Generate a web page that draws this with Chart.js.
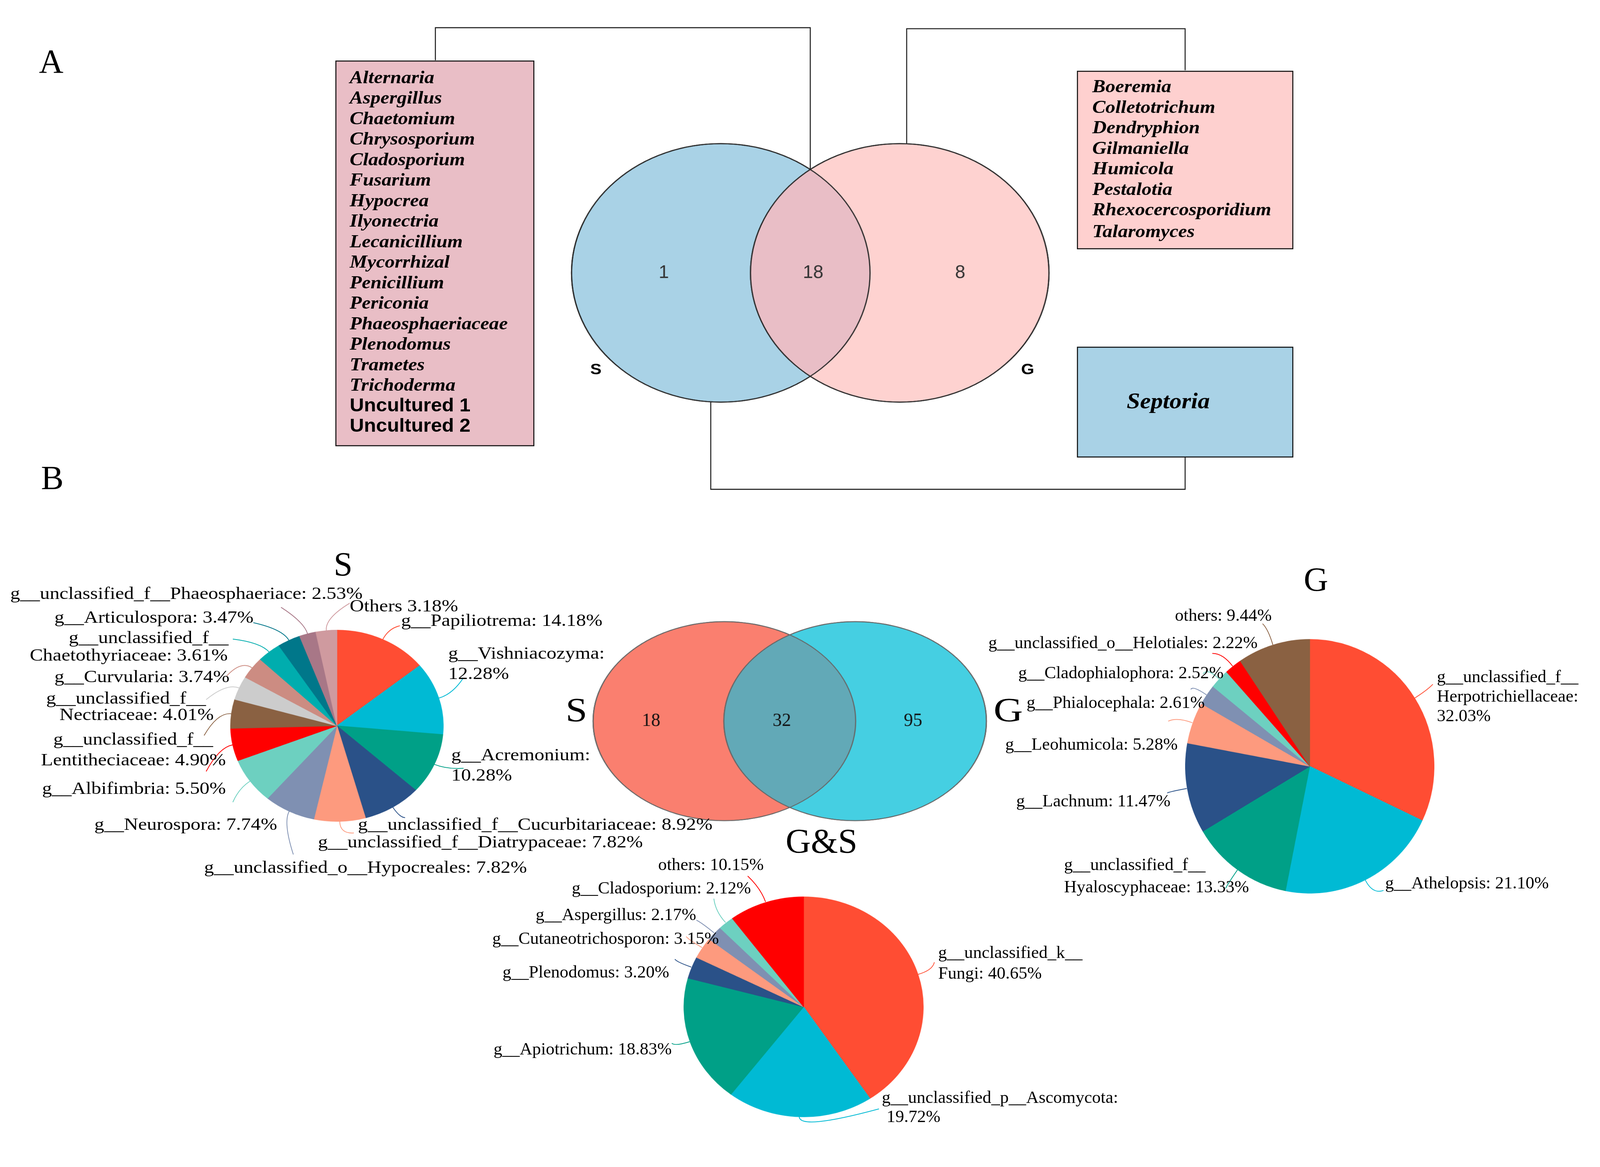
<!DOCTYPE html>
<html>
<head>
<meta charset="utf-8">
<title>Shared and specific genera, S / G</title>
<script src="https://cdn.jsdelivr.net/npm/chart.js@4.4.1/dist/chart.umd.min.js"></script>
<style>
  html, body { margin: 0; padding: 0; background: #fff; }
  body { width: 100vw; height: 100vh; overflow: hidden; position: relative; }
  #page { position: absolute; left: 0; top: 0; width: 1560px; height: 1113px;
          transform: scale(2.684); transform-origin: 0 0;
          font-family: "Liberation Serif", "Times New Roman", serif; color: #000; }
  .txt { position: absolute; white-space: nowrap; line-height: 1; }
  .box { position: absolute; box-sizing: border-box; border: 1.8px solid #111; }
  .list { position: absolute; font-weight: bold; font-style: italic; font-size: 18px;
          line-height: 20.02px; white-space: nowrap; transform: scaleX(1.07); transform-origin: 0 0; }
  .sans { font-family: "Liberation Sans", Arial, sans-serif; font-style: normal; }
  .wrap { position: absolute; }
  .wrap canvas { display: block; }
  #lines { position: absolute; left: 0; top: 0; }
</style>
</head>
<body>
<div id="page">
  <svg id="lines" width="1560" height="1113" xmlns="http://www.w3.org/2000/svg"></svg>
  <div class="box" style="left:327px;top:58.7px;width:194px;height:376.8px;background:#E9BEC6"></div>
  <div class="list" id="listShared" style="left:341px;top:64.7px"></div>
  <div class="box" style="left:1050px;top:68.5px;width:210.5px;height:174px;background:#FED0CF"></div>
  <div class="list" id="listG" style="left:1065px;top:74.4px"></div>
  <div class="box" style="left:1050px;top:338px;width:210.5px;height:107.5px;background:#A9D2E6"></div>
</div>
<script>
// ---- data ----
var palette = ['#FF4D33', '#00BAD4', '#00A087', '#2A5188', '#FD9A7E', '#7F90B2', '#6DD0C0',
  '#FF0000', '#8A6142', '#CCCCCC', '#CC8C82', '#00ADAE', '#00778A', '#A87787', '#CF9A9F'];

// panel A: genera Venn
var vennASets = ['S', 'G'];
var vennACounts = [1, 18, 8];          // S only, shared, G only
var sharedGenera = ['Alternaria', 'Aspergillus', 'Chaetomium', 'Chrysosporium', 'Cladosporium',
  'Fusarium', 'Hypocrea', 'Ilyonectria', 'Lecanicillium', 'Mycorrhizal', 'Penicillium', 'Periconia',
  'Phaeosphaeriaceae', 'Plenodomus', 'Trametes', 'Trichoderma', 'Uncultured 1', 'Uncultured 2'];
var gOnlyGenera = ['Boeremia', 'Colletotrichum', 'Dendryphion', 'Gilmaniella', 'Humicola',
  'Pestalotia', 'Rhexocercosporidium', 'Talaromyces'];
var sOnlyGenera = ['Septoria'];

// panel B: Venn of counts
var vennBSets = ['S', 'G'];
var vennBCounts = [18, 32, 95];

// panel B: pies (percent)
var sNames = ['g__Papiliotrema', 'g__Vishniacozyma', 'g__Acremonium', 'g__unclassified_f__Cucurbitariaceae',
  'g__unclassified_f__Diatrypaceae', 'g__unclassified_o__Hypocreales', 'g__Neurospora', 'g__Albifimbria',
  'g__unclassified_f__Lentitheciaceae', 'g__unclassified_f__Nectriaceae', 'g__Curvularia',
  'g__unclassified_f__Chaetothyriaceae', 'g__Articulospora', 'g__unclassified_f__Phaeosphaeriace', 'Others'];
var sValues = [14.18, 12.28, 10.28, 8.92, 7.82, 7.82, 7.74, 5.50, 4.90, 4.01, 3.74, 3.61, 3.47, 2.53, 3.18];

var gNames = ['g__unclassified_f__Herpotrichiellaceae', 'g__Athelopsis', 'g__unclassified_f__Hyaloscyphaceae',
  'g__Lachnum', 'g__Leohumicola', 'g__Phialocephala', 'g__Cladophialophora', 'g__unclassified_o__Helotiales', 'others'];
var gValues = [32.03, 21.10, 13.33, 11.47, 5.28, 2.61, 2.52, 2.22, 9.44];

var gsNames = ['g__unclassified_k__Fungi', 'g__unclassified_p__Ascomycota', 'g__Apiotrichum', 'g__Plenodomus',
  'g__Cutaneotrichosporon', 'g__Aspergillus', 'g__Cladosporium', 'others'];
var gsValues = [40.65, 19.72, 18.83, 3.20, 3.15, 2.17, 2.12, 10.15];

// ---- label layout (page units) ----
var sLayout = [
  {at: [[391, 606]], end: [390, 610]},
  {at: [[436.5, 638.5], [436.5, 658.4]], cut: [':'], end: [451, 662]},
  {at: [[440.2, 737.2], [440.2, 756.8]], cut: [':'], end: [452, 749]},
  {at: [[348.7, 804.7]], end: [395, 797]},
  {at: [[310, 822]], end: [345, 812]},
  {at: [[199.3, 846.8]], end: [286, 833]},
  {at: [[91.5, 804.7]], end: [227, 782]},
  {at: [[40.7, 769.7]], end: [201, 752]},
  {at: [[51.8, 722.3], [40.2, 742.4]], cut: ['f__'], end: [199, 717]},
  {at: [[44.7, 682.5], [58.3, 698]], cut: ['f__'], end: [201, 682]},
  {at: [[52.7, 660.7]], end: [221, 659]},
  {at: [[67.3, 623.3], [28.5, 640]], cut: ['f__'], end: [227, 623]},
  {at: [[53, 603]], end: [247, 607]},
  {at: [[9.5, 580]], end: [274, 592]},
  {at: [[340.5, 592.5]], end: [341, 588]}
];
var gLayout = [
  {at: [[1401, 661.5], [1401, 680.3], [1401, 699.2]], cut: ['f__', ':'], end: [1397, 667]},
  {at: [[1350.5, 862]], end: [1349, 868]},
  {at: [[1037.5, 844.2], [1037.5, 866]], cut: ['f__'], end: [1195, 866]},
  {at: [[990.8, 782]], end: [1138, 773]},
  {at: [[980.2, 727.3]], end: [1139, 703]},
  {at: [[1000.9, 686.5]], end: [1161, 672]},
  {at: [[992.8, 657.5]], end: [1173, 657]},
  {at: [[963.7, 628.5]], end: [1182, 637]},
  {at: [[1145.5, 601]], end: [1231, 608]}
];
var gsLayout = [
  {at: [[914.7, 930.1], [914.7, 950.1]], cut: ['k__'], end: [911, 938]},
  {at: [[859.8, 1070.8], [864.5, 1090.2]], cut: [':'], end: [857, 1081]},
  {at: [[481.2, 1023.9]], end: [655, 1017]},
  {at: [[490, 949.6]], end: [658, 935]},
  {at: [[480, 916.2]], end: [669, 913]},
  {at: [[522.3, 893]], end: [679, 897]},
  {at: [[557.5, 867.3]], end: [696, 876]},
  {at: [[641.7, 844.4]], end: [729, 854]}
];

var page = document.getElementById('page');
var svg = document.getElementById('lines');
var NS = 'http://www.w3.org/2000/svg';

// fit the 1560 x 1113 layout to whatever the viewport really is
var fit = Math.min(window.innerWidth / 1560, window.innerHeight / 1113) || 2.684;
page.style.transform = 'scale(' + fit + ')';

function addPath(d, color, w) {
  var p = document.createElementNS(NS, 'path');
  p.setAttribute('d', d);
  p.setAttribute('fill', 'none');
  p.setAttribute('stroke', color);
  p.setAttribute('stroke-width', w);
  svg.appendChild(p);
}

function addText(str, x, cy, size, o) {
  o = o || {};
  var d = document.createElement('div');
  d.className = 'txt';
  d.textContent = str;
  d.style.fontSize = size + 'px';
  d.style.left = x + 'px';
  d.style.top = (cy - size * (o.caps ? 0.51 : 0.6)) + 'px';
  if (o.family) d.style.fontFamily = o.family;
  if (o.weight) d.style.fontWeight = o.weight;
  if (o.italic) d.style.fontStyle = 'italic';
  if (o.color) d.style.color = o.color;
  var sx = o.sx || 1;
  if (o.center) {
    d.style.transformOrigin = '50% 50%';
    d.style.transform = 'translateX(-50%) scaleX(' + sx + ')';
  } else {
    d.style.transformOrigin = '0 50%';
    d.style.transform = 'scaleX(' + sx + ')';
  }
  page.appendChild(d);
}

function splitLines(text, marks) {
  var out = [], rest = text;
  (marks || []).forEach(function (m) {
    var i = rest.indexOf(m) + m.length;
    out.push(rest.slice(0, i).trim());
    rest = rest.slice(i).trim();
  });
  out.push(rest);
  return out;
}

// canvas in a wrapper that is stretched horizontally (ellipses)
function makeCanvas(cx, cy, w, h, sx) {
  var wrap = document.createElement('div');
  wrap.className = 'wrap';
  wrap.style.left = (cx - w / 2) + 'px';
  wrap.style.top = (cy - h / 2) + 'px';
  wrap.style.width = w + 'px';
  wrap.style.height = h + 'px';
  wrap.style.transform = 'scaleX(' + sx + ')';
  var cv = document.createElement('canvas');
  cv.width = w;
  cv.height = h;
  wrap.appendChild(cv);
  page.appendChild(wrap);
  return cv;
}

// ---- panel A ----
function fillList(id, items) {
  var el = document.getElementById(id);
  items.forEach(function (name) {
    var row = document.createElement('div');
    row.textContent = name;
    if (/^Uncultured/.test(name)) row.className = 'sans';
    el.appendChild(row);
  });
}
fillList('listShared', sharedGenera);
fillList('listG', gOnlyGenera);
addText(sOnlyGenera[0], 1138.5, 391, 22, {center: true, weight: 'bold', italic: true, sx: 1.07, caps: true});

addText('A', 38, 61, 33, {caps: true});
addText('B', 40, 467, 33, {caps: true});

// connectors between Venn regions and the genus boxes
addPath('M424.5,58.7 L424.5,27 L790,27 L790,165', '#222', 1);
addPath('M884,140 L884,28 L1155.5,28 L1155.5,68.5', '#222', 1);
addPath('M693,392 L693,477 L1155.5,477 L1155.5,445.5', '#222', 1);

var vennLens = {
  id: 'vennLens',
  afterDatasetsDraw: function (chart, args, o) {
    var pts = chart.getDatasetMeta(0).data, a = pts[0], b = pts[1], ctx = chart.ctx;
    var r = a.options.radius;
    ctx.save();
    ctx.beginPath(); ctx.arc(a.x, a.y, r, 0, Math.PI * 2); ctx.clip();
    ctx.beginPath(); ctx.arc(b.x, b.y, b.options.radius, 0, Math.PI * 2);
    ctx.fillStyle = o.lens; ctx.fill();
    ctx.restore();
    ctx.save();
    ctx.lineWidth = o.lineWidth; ctx.strokeStyle = o.stroke;
    pts.forEach(function (p) {
      ctx.beginPath(); ctx.arc(p.x, p.y, p.options.radius, 0, Math.PI * 2); ctx.stroke();
    });
    ctx.fillStyle = o.color; ctx.font = o.font;
    ctx.textAlign = 'center'; ctx.textBaseline = 'middle';
    var xs = [a.x - o.offA * r, (a.x + b.x) / 2 + o.offM * r, b.x + o.offB * r];
    o.counts.forEach(function (c, i) {
      ctx.save(); ctx.translate(xs[i], a.y); ctx.scale(1 / o.sx, 1);
      ctx.fillText(String(c), 0, 0);
      ctx.restore();
    });
    ctx.restore();
  }
};

function drawVenn(cfg) {
  var sx = cfg.rx / cfg.ry;
  var cv = makeCanvas(cfg.cx, cfg.cy, cfg.w, cfg.h, sx);
  var half = cfg.sep / sx / 2;
  return new Chart(cv.getContext('2d'), {
    type: 'bubble',
    data: {
      labels: cfg.sets,
      datasets: [{
        data: [{x: -half, y: 0, r: cfg.ry}, {x: half, y: 0, r: cfg.ry}],
        backgroundColor: cfg.fills,
        borderColor: cfg.stroke,
        borderWidth: cfg.lineWidth,
        hoverRadius: 0,
        clip: false
      }]
    },
    options: {
      responsive: false,
      animation: false,
      devicePixelRatio: 3,
      layout: {padding: 0, autoPadding: false},
      events: [],
      scales: {
        x: {type: 'linear', min: -cfg.w / 2, max: cfg.w / 2, display: false},
        y: {type: 'linear', min: -cfg.h / 2, max: cfg.h / 2, display: false}
      },
      plugins: {
        legend: {display: false},
        tooltip: {enabled: false},
        vennLens: {
          lens: cfg.lens, stroke: cfg.stroke, lineWidth: cfg.lineWidth, counts: cfg.counts,
          font: cfg.font, color: cfg.color, sx: sx, offA: cfg.off[0], offM: cfg.off[1], offB: cfg.off[2]
        }
      }
    },
    plugins: [vennLens]
  });
}

drawVenn({
  sets: vennASets, counts: vennACounts, cx: 790.25, cy: 266, rx: 145.5, ry: 126, sep: 174.5,
  w: 420, h: 262, fills: ['#A9D2E6', '#FED2D0'], lens: '#E9BEC6', stroke: '#2b2b2b', lineWidth: 1,
  font: '18px "Liberation Sans", Arial, sans-serif', color: '#333', off: [0.382, 0.019, 0.405]
});
addText(vennASets[0], 581, 360, 15, {center: true, weight: 'bold', family: '"Liberation Sans", Arial, sans-serif', sx: 1.1, caps: true});
addText(vennASets[1], 1001.5, 360, 15, {center: true, weight: 'bold', family: '"Liberation Sans", Arial, sans-serif', sx: 1.1, caps: true});

// ---- panel B ----
drawVenn({
  sets: vennBSets, counts: vennBCounts, cx: 769.75, cy: 703, rx: 128, ry: 97, sep: 127.5,
  w: 310, h: 200, fills: ['#FA7F6F', '#45CFE2'], lens: '#62A9B7', stroke: '#666', lineWidth: 0.8,
  font: '18px "Liberation Serif", "Times New Roman", serif', color: '#111', off: [0.558, -0.06, 0.441]
});
addText(vennBSets[0], 561.5, 693, 33, {center: true, sx: 1.15, caps: true});
addText(vennBSets[1], 983, 693, 33, {center: true, sx: 1.2, caps: true});
addText('G&S', 801, 820, 34, {center: true, caps: true});

function drawPie(cfg) {
  var sx = cfg.rx / cfg.ry, size = Math.round(cfg.ry * 2), half = size / 2;
  var left = cfg.cx - half, top = cfg.cy - half;
  var cv = makeCanvas(cfg.cx, cfg.cy, size, size, sx);
  var colors = palette.slice(0, cfg.values.length);
  var chart = new Chart(cv.getContext('2d'), {
    type: 'pie',
    data: {
      labels: cfg.names,
      datasets: [{data: cfg.values, backgroundColor: colors, borderColor: colors, borderWidth: 0.5}]
    },
    options: {
      responsive: false,
      animation: false,
      devicePixelRatio: 3,
      layout: {padding: 0},
      events: [],
      plugins: {legend: {display: false}, tooltip: {enabled: false}}
    }
  });

  // leader lines and labels
  var meta = chart.getDatasetMeta(0);
  meta.data.forEach(function (arc, i) {
    var mid = (arc.startAngle + arc.endAngle) / 2;
    var toPage = function (k) {
      var px = arc.x + Math.cos(mid) * arc.outerRadius * k;
      var py = arc.y + Math.sin(mid) * arc.outerRadius * k;
      return [(left + half + (px - half) * sx).toFixed(2), (top + py).toFixed(2)];
    };
    var lay = cfg.layout[i];
    addPath('M' + toPage(1) + ' Q' + toPage(1.13) + ' ' + lay.end, colors[i], 0.75);
    var name = cfg.names[i];
    var text = name + (name === 'Others' ? ' ' : ': ') + cfg.values[i].toFixed(2) + '%';
    splitLines(text, lay.cut).forEach(function (line, j) {
      addText(line, lay.at[j][0], lay.at[j][1], 17, {sx: cfg.textSx});
    });
  });
  if (cfg.title) addText(cfg.title, cfg.titleAt[0], cfg.titleAt[1], 33, {center: true, caps: true});
}

drawPie({title: 'S', titleAt: [334.5, 551], names: sNames, values: sValues, layout: sLayout,
  cx: 328.5, cy: 707.5, rx: 104, ry: 93.5, textSx: 1.13});
drawPie({title: 'G', titleAt: [1283, 565.5], names: gNames, values: gValues, layout: gLayout,
  cx: 1276.5, cy: 747, rx: 121.5, ry: 124, textSx: 1});
drawPie({title: '', titleAt: [0, 0], names: gsNames, values: gsValues, layout: gsLayout,
  cx: 783, cy: 981, rx: 117, ry: 107.5, textSx: 1});
</script>
</body>
</html>
